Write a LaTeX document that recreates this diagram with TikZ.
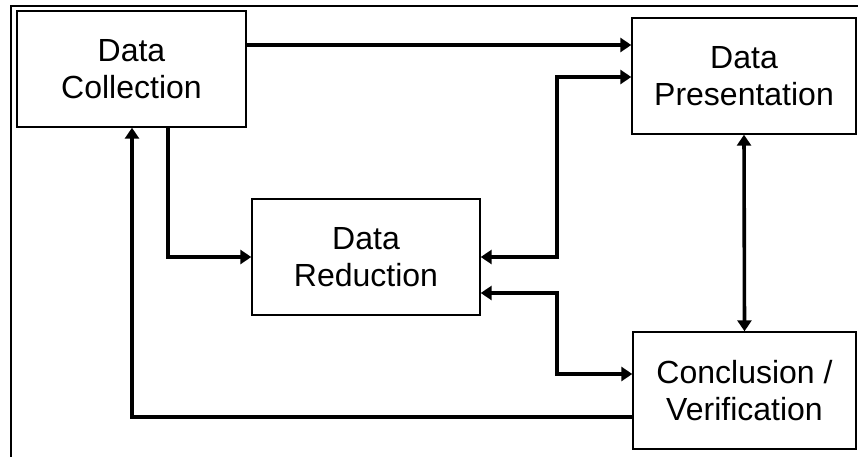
\documentclass[tikz,border=0pt]{standalone}
\usepackage{fontspec}
\setmainfont{Liberation Sans}
\usetikzlibrary{arrows.meta,calc}
\begin{document}
\begin{tikzpicture}[x=1pt,y=-1pt,
  blk/.style={draw=black,line width=1.4pt,fill=white,inner sep=0pt,align=center,
    font=\fontsize{32}{37.5}\selectfont,minimum width=#1},
  con/.style={line width=3.6pt,-{Triangle[length=11pt,width=14pt]}},
  dcon/.style={line width=3.6pt,{Triangle[length=11pt,width=14pt]}-{Triangle[length=11pt,width=14pt]}}]
\useasboundingbox (0,0) rectangle (858,457);
\draw[line width=2.2pt] (11,457) -- (11,6) -- (858,6);
\node[blk=229pt,minimum height=116pt] (DC) at (131.5,69) {Data\\Collection};
\node[blk=224pt,minimum height=116pt] (DP) at (744,76) {Data\\Presentation};
\node[blk=228pt,minimum height=116pt] (DR) at (366,257) {Data\\Reduction};
\node[blk=223pt,minimum height=117pt] (CV) at (744.5,390.5) {Conclusion /\\Verification};
\coordinate (y45) at (0,45);
\coordinate (x168) at (168,0);
\coordinate (x132) at (132,0);
\coordinate (y417) at (0,417);
\coordinate (c1) at (557,77);
\coordinate (y293) at (0,293);
\coordinate (c3) at (557,374);
\draw[con] (DC.east |- y45) -- (DP.west |- y45);
\draw[con] (DC.south -| x168) |- (DR.west);
\draw[con] (CV.west |- y417) -| (DC.south -| x132);
\draw[dcon] (DR.east) -| (c1) -- (DP.west |- c1);
\draw[dcon] (DR.east |- y293) -| (c3) -- (CV.west |- c3);
\draw[dcon] (DP.south) -- (CV.north);
\end{tikzpicture}
\end{document}
